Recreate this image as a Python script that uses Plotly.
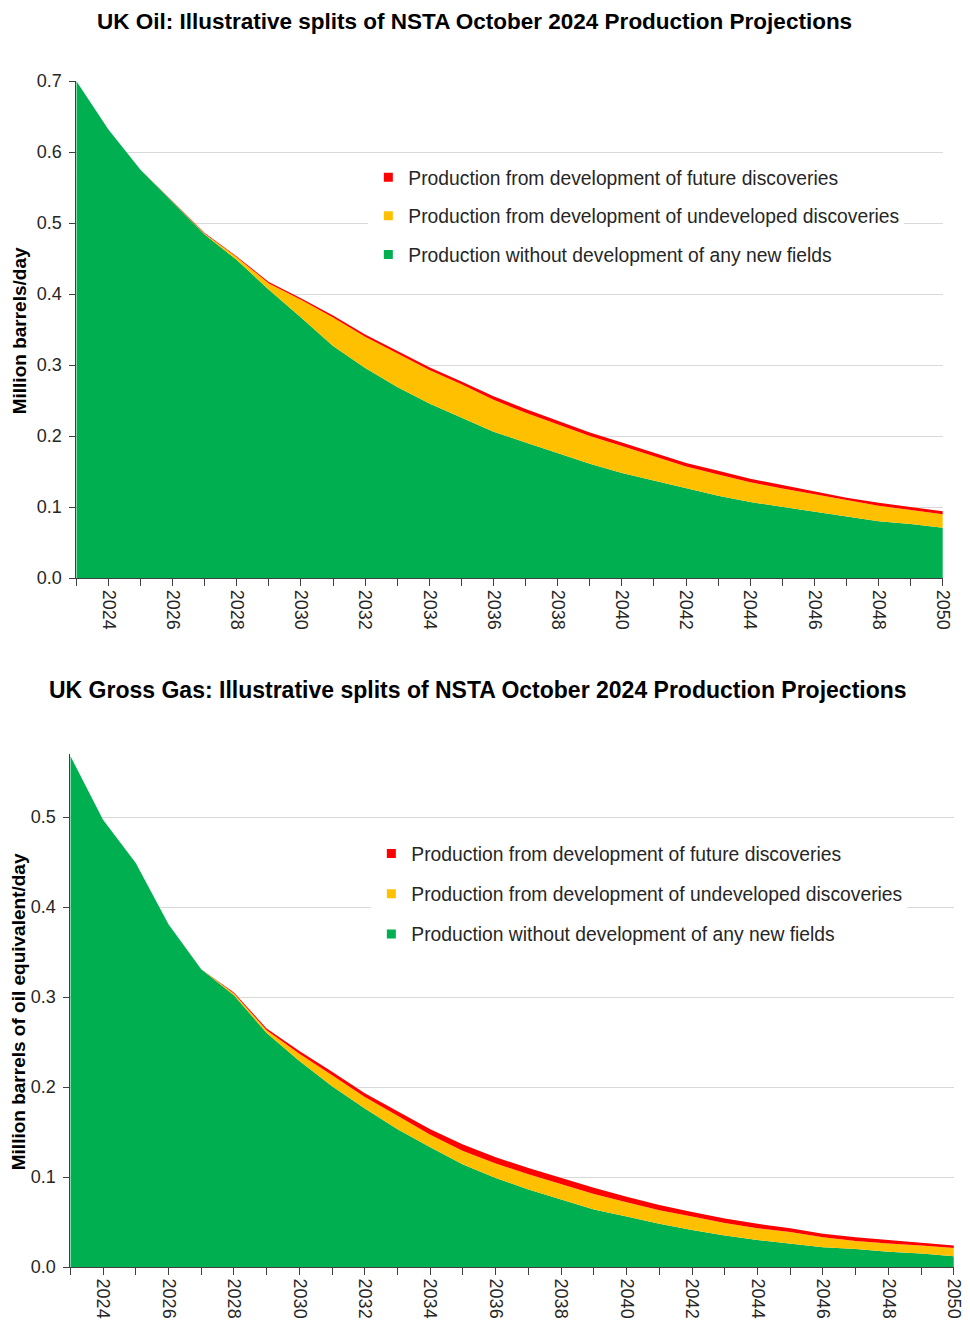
import plotly.graph_objects as go

years = list(range(2023, 2051))
tick_years = [2024, 2026, 2028, 2030, 2032, 2034, 2036, 2038, 2040, 2042, 2044, 2046, 2048, 2050]

# UK oil, million barrels/day
oil_existing = [0.700, 0.632, 0.575, 0.529, 0.484, 0.448, 0.406, 0.367, 0.327, 0.296, 0.269, 0.246,
                0.226, 0.206, 0.191, 0.176, 0.161, 0.148, 0.137, 0.126, 0.116, 0.107, 0.100, 0.093,
                0.086, 0.080, 0.076, 0.071]
oil_undeveloped = [0.000, 0.000, 0.000, 0.001, 0.001, 0.004, 0.009, 0.025, 0.040, 0.044, 0.047, 0.047,
                   0.047, 0.045, 0.042, 0.040, 0.039, 0.038, 0.035, 0.031, 0.030, 0.028, 0.026, 0.025,
                   0.023, 0.022, 0.020, 0.019]
oil_future = [0.000, 0.000, 0.000, 0.001, 0.001, 0.001, 0.002, 0.002, 0.003, 0.003, 0.004, 0.004,
              0.004, 0.005, 0.005, 0.005, 0.005, 0.005, 0.005, 0.005, 0.005, 0.005, 0.005, 0.004,
              0.004, 0.004, 0.004, 0.004]

# UK gross gas, million barrels of oil equivalent/day
gas_existing = [0.568, 0.497, 0.449, 0.381, 0.331, 0.302, 0.260, 0.229, 0.201, 0.176, 0.153, 0.133,
                0.114, 0.099, 0.086, 0.075, 0.064, 0.056, 0.048, 0.041, 0.035, 0.030, 0.026, 0.022,
                0.020, 0.017, 0.015, 0.012]
gas_undeveloped = [0.000, 0.000, 0.000, 0.000, 0.000, 0.002, 0.003, 0.008, 0.012, 0.013, 0.015, 0.014,
                   0.015, 0.016, 0.017, 0.017, 0.017, 0.016, 0.015, 0.015, 0.014, 0.013, 0.013, 0.011,
                   0.009, 0.009, 0.009, 0.009]
gas_future = [0.000, 0.000, 0.000, 0.000, 0.000, 0.001, 0.002, 0.003, 0.004, 0.004, 0.005, 0.006,
              0.007, 0.007, 0.007, 0.007, 0.007, 0.006, 0.006, 0.005, 0.005, 0.005, 0.004, 0.004,
              0.004, 0.004, 0.003, 0.003]

series_names = [
    "Production from development of future discoveries",
    "Production from development of undeveloped discoveries",
    "Production without development of any new fields",
]
colors = ["#FF0000", "#FFC000", "#00B050"]

W, H = 974, 1327
# screenshot ends up slightly shrunk and offset, so map target pixels back to figure pixels
AX, BX = 0.988, 7.8
AY, BY = 0.985, 16.9
FONT = "Liberation Sans, Arial, sans-serif"
TEXT = "#262626"


def px_x(p):
    return ((p - BX) / AX) / W


def px_y(p):
    return 1 - ((p - BY) / AY) / H


fig = go.Figure()

charts = [
    ("x", "y", "legend", [oil_existing, oil_undeveloped, oil_future]),
    ("x2", "y2", "legend2", [gas_existing, gas_undeveloped, gas_future]),
]
for xa, ya, leg, (existing, undeveloped, future) in charts:
    stack = xa + "stack"
    for vals, color in [(existing, colors[2]), (undeveloped, colors[1]), (future, colors[0])]:
        fig.add_trace(go.Scatter(
            x=years, y=vals, xaxis=xa, yaxis=ya, stackgroup=stack, mode="lines",
            line=dict(width=0, color=color), fillcolor=color, showlegend=False, hoverinfo="skip",
        ))
    for i, (name, color) in enumerate(zip(series_names, colors)):
        fig.add_trace(go.Scatter(
            x=[None], y=[None], xaxis=xa, yaxis=ya, mode="markers", name=name,
            marker=dict(symbol="square", size=9, color=color), legend=leg,
            legendgroup=leg + str(i),
        ))

xaxis_common = dict(
    range=[2023, 2050], tickmode="array", tickvals=tick_years, ticktext=[str(t) for t in tick_years],
    tickangle=90, ticks="outside", ticklen=7, tickcolor="#404040",
    minor=dict(dtick=1, tick0=2023, ticks="outside", ticklen=7, tickcolor="#404040", showgrid=False),
    showline=True, linecolor="#404040", linewidth=1, showgrid=False, zeroline=False,
    tickfont=dict(family=FONT, size=18, color=TEXT),
)
yaxis_common = dict(
    ticks="outside", ticklen=6, tickcolor="#404040", tickformat=".1f", dtick=0.1,
    showline=True, linecolor="#404040", linewidth=1, showgrid=True, gridcolor="#d9d9d9",
    zeroline=False, tickfont=dict(family=FONT, size=18, color=TEXT), ticklabelstandoff=4,
)

legend_common = dict(
    xanchor="left", yanchor="top", bgcolor="white", borderwidth=0,
    font=dict(family=FONT, size=19.3, color=TEXT), traceorder="grouped",
)

fig.update_layout(
    width=W, height=H, margin=dict(l=0, r=0, t=0, b=0),
    paper_bgcolor="white", plot_bgcolor="white",
    xaxis=dict(domain=[px_x(76), px_x(941)], anchor="y", **xaxis_common),
    yaxis=dict(domain=[px_y(577), px_y(80)], anchor="x", range=[0, 0.7], **yaxis_common),
    xaxis2=dict(domain=[px_x(70), px_x(952)], anchor="y2", **xaxis_common),
    yaxis2=dict(domain=[px_y(1266), px_y(753)], anchor="x2", range=[0, 0.57], **yaxis_common),
    legend=dict(x=px_x(367.5), y=px_y(157), tracegroupgap=10.6, **legend_common),
    legend2=dict(x=px_x(370.5), y=px_y(833.5), tracegroupgap=12.1, **legend_common),
    annotations=[
        dict(text="<b>UK Oil: Illustrative splits of NSTA October 2024 Production Projections</b>",
             x=px_x(473), y=px_y(20), xref="paper", yref="paper", showarrow=False,
             xanchor="center", yanchor="middle", font=dict(family=FONT, size=22.5, color="black")),
        dict(text="<b>UK Gross Gas: Illustrative splits of NSTA October 2024 Production Projections</b>",
             x=px_x(477), y=px_y(689), xref="paper", yref="paper", showarrow=False,
             xanchor="center", yanchor="middle", font=dict(family=FONT, size=23, color="black")),
        dict(text="<b>Million barrels/day</b>", textangle=-90,
             x=px_x(19), y=px_y(330), xref="paper", yref="paper", showarrow=False,
             xanchor="center", yanchor="middle", font=dict(family=FONT, size=19, color="black")),
        dict(text="<b>Million barrels of oil equivalent/day</b>", textangle=-90,
             x=px_x(18), y=px_y(1011), xref="paper", yref="paper", showarrow=False,
             xanchor="center", yanchor="middle", font=dict(family=FONT, size=19, color="black")),
    ],
)

fig.write_html("out.html")
